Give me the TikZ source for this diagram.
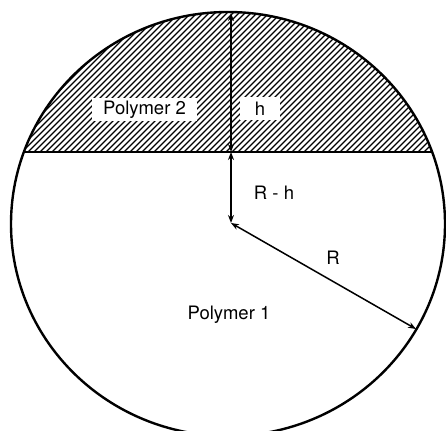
\documentclass[tikz,border=0pt]{standalone}
\usepackage{fontspec}
\setmainfont{TeX Gyre Heros}
\usetikzlibrary{arrows.meta}
\begin{document}
\begin{tikzpicture}[x=1pt,y=-1pt,
  hatch/.style={line width=1.1pt},
  lab/.style={font=\fontsize{18.5}{21}\selectfont, inner sep=0pt},
  box/.style={lab, fill=white, minimum height=23pt},
  dim/.style={line width=1.5pt, {Stealth[length=8pt,width=6pt]}-{Stealth[length=8pt,width=6pt]}}]
\useasboundingbox (0,0) rectangle (446,430);
\begin{scope}
\clip (0,0) rectangle (446,430);
\begin{scope}
\clip (228,224) ellipse [x radius=217, y radius=212];
\clip (0,0) rectangle (446,152);
\foreach \i in {-200,-194,...,460} \draw[hatch] (\i,152) -- (\i+152,0);
\end{scope}
\node[box, minimum width=105pt] (p2) at (144.5,110) {Polymer 2};
\node[box, minimum width=40pt] (hl) at (260,109) {h};
\draw[line width=2.4pt] (228,224) ellipse [x radius=217, y radius=212];
\coordinate (cl) at (23,152);
\coordinate (cr) at (433,152);
\draw[line width=1.8pt] (cl) -- (cr);
\coordinate (top) at (231,13);
\coordinate (mid) at (231,152);
\coordinate (ctr) at (231,223);
\coordinate (rim) at (416,329);
\draw[dim] (top) -- (mid);
\draw[dim] (mid) -- (ctr);
\draw[dim] (ctr) -- (rim);
\node[lab] (rh) at (274,193) {R - h};
\node[lab] (r) at (333,258) {R};
\node[lab] (p1) at (229,315) {Polymer 1};
\end{scope}
\end{tikzpicture}
\end{document}
